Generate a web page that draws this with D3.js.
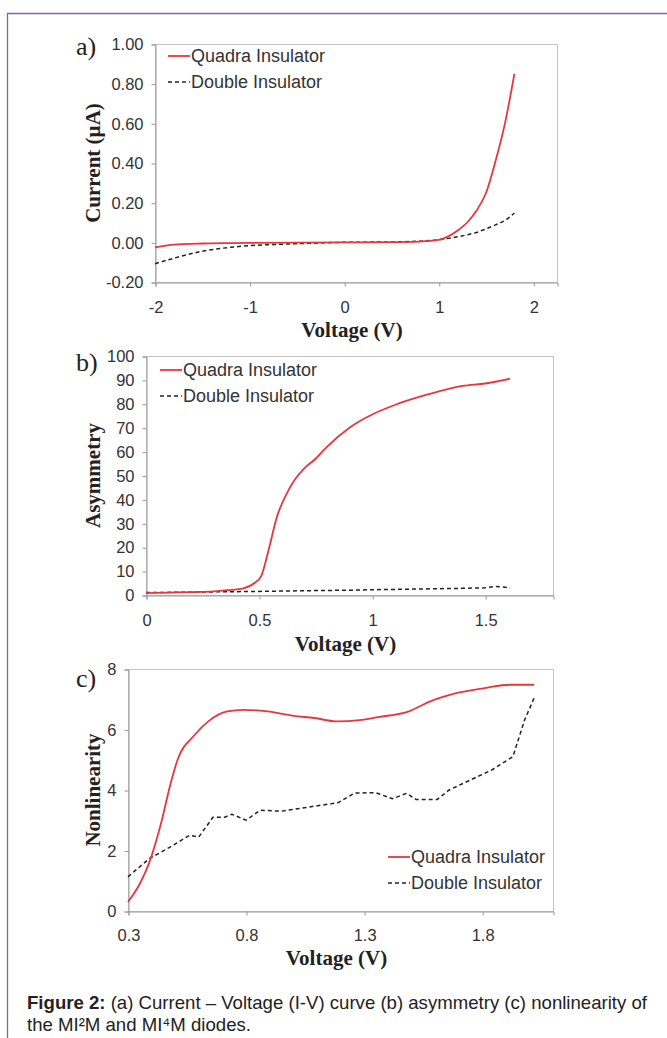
<!DOCTYPE html>
<html lang="en">
<head>
  <meta charset="UTF-8" />
  <title>Figure 2</title>
  <style>
    html, body { margin: 0; padding: 0; background: #fff; }
    svg { display: block; }
  </style>
</head>
<body>
  <script src="https://d3js.org/d3.v7.min.js"></script>
  <script>
    // (a) I-V curve
    const ivVoltage = [-2, -1.8, -1.5, -1.2, -1, -0.5, 0, 0.5, 0.8, 1.0, 1.1, 1.2, 1.3, 1.4, 1.5, 1.6, 1.7, 1.8];
    const ivQuadra = [-0.025, -0.012, -0.006, -0.004, -0.003, -0.001, 0, 0.001, 0.004, 0.012, 0.03, 0.06, 0.1, 0.16, 0.25, 0.41, 0.6, 0.85];
    const ivDouble = [-0.108, -0.08, -0.045, -0.025, -0.017, -0.007, 0, 0.002, 0.006, 0.013, 0.02, 0.028, 0.038, 0.05, 0.068, 0.088, 0.11, 0.148];

    // (b) asymmetry
    const asymVoltage = [0, 0.1, 0.2, 0.3, 0.36, 0.43, 0.48, 0.51, 0.54, 0.58, 0.62, 0.66, 0.7, 0.75, 0.8, 0.9, 1.0, 1.1, 1.25, 1.4, 1.5, 1.61];
    const asymQuadra = [0.8, 1, 1.2, 1.5, 2, 2.8, 5, 8, 18, 33, 42, 48.5, 53, 57, 62, 70, 75.5, 79.5, 84, 87.5, 88.5, 90.5];
    const asymDoubleV = [0, 0.2, 0.4, 0.5, 0.7, 0.9, 1.0, 1.2, 1.4, 1.5, 1.55, 1.61];
    const asymDouble = [1, 1.2, 1.4, 1.5, 1.8, 2, 2.2, 2.5, 2.8, 3, 3.6, 3];

    // (c) nonlinearity
    const nlQuadraV = [0.3, 0.35, 0.39, 0.44, 0.48, 0.51, 0.58, 0.64, 0.72, 0.79, 0.89, 1.0, 1.09, 1.18, 1.29, 1.36, 1.49, 1.58, 1.69, 1.81, 1.92, 2.02];
    const nlQuadra = [0.3, 0.9, 1.6, 2.9, 4.2, 5.0, 5.8, 6.27, 6.6, 6.65, 6.6, 6.45, 6.38, 6.27, 6.32, 6.41, 6.6, 6.93, 7.2, 7.37, 7.48, 7.48];
    const nlDoubleV = [0.3, 0.39, 0.48, 0.56, 0.6, 0.66, 0.71, 0.74, 0.8, 0.86, 0.95, 1.06, 1.19, 1.26, 1.35, 1.42, 1.48, 1.52, 1.61, 1.66, 1.75, 1.84, 1.93, 1.98, 2.02];
    const nlDouble = [1.13, 1.73, 2.12, 2.5, 2.45, 3.1, 3.1, 3.2, 3.0, 3.33, 3.3, 3.43, 3.58, 3.9, 3.91, 3.71, 3.89, 3.69, 3.69, 4.0, 4.33, 4.66, 5.1, 6.32, 7.04];

    const seriesNames = ["Quadra Insulator", "Double Insulator"];

    const W = 667, H = 1038;
    const red = "#e8363f", dark = "#222";
    const sans = "'Liberation Sans', Arial, sans-serif";
    const hyphen = f => d => f(d).replace("\u2212", "-");

    const svg = d3.select("body").append("svg")
      .attr("width", W).attr("height", H)
      .attr("viewBox", [0, 0, W, H]);

    // purple frame
    svg.append("path")
      .attr("d", `M${W},13.5 H7.5 V${H}`)
      .attr("fill", "none").attr("stroke", "#7f62a8").attr("stroke-width", 1.3);

    const panels = [
      {
        tag: "a)", ytitle: "Current (\u00b5A)",
        box: { l: 155, r: 557, t: 44, b: 282 },
        xd: [-2, 2.25], xt: [-2, -1, 0, 1, 2], xf: hyphen(d3.format("d")),
        yd: [-0.2, 1.0], yt: d3.range(-0.2, 1.01, 0.2), yf: hyphen(d3.format(".2f")),
        q: [ivVoltage, ivQuadra], d: [ivVoltage, ivDouble], dCurve: d3.curveMonotoneX,
        leg: { x: 168, y: 56 }, xlabY: 307, xtitleY: 330, tagY: 46
      },
      {
        tag: "b)", ytitle: "Asymmetry",
        box: { l: 146, r: 553, t: 356, b: 595 },
        xd: [0, 1.8], xt: [0, 0.5, 1, 1.5], xf: d => String(d),
        yd: [0, 100], yt: d3.range(0, 101, 10), yf: d3.format("d"),
        q: [asymVoltage, asymQuadra], d: [asymDoubleV, asymDouble], dCurve: d3.curveLinear,
        leg: { x: 160, y: 370 }, xlabY: 620, xtitleY: 644, tagY: 362
      },
      {
        tag: "c)", ytitle: "Nonlinearity",
        box: { l: 128, r: 553, t: 669, b: 911 },
        xd: [0.3, 2.1], xt: [0.3, 0.8, 1.3, 1.8], xf: d3.format(".1f"),
        yd: [0, 8], yt: [0, 2, 4, 6, 8], yf: d3.format("d"),
        q: [nlQuadraV, nlQuadra], d: [nlDoubleV, nlDouble], dCurve: d3.curveLinear,
        leg: { x: 388, y: 857 }, xlabY: 935, xtitleY: 958, tagY: 678
      }
    ];

    panels.forEach(p => {
      const g = svg.append("g");
      const x = d3.scaleLinear().domain(p.xd).range([p.box.l, p.box.r]);
      const y = d3.scaleLinear().domain(p.yd).range([p.box.b, p.box.t]);

      g.append("rect")
        .attr("x", p.box.l + 0.5).attr("y", p.box.t + 0.5)
        .attr("width", p.box.r - p.box.l).attr("height", p.box.b - p.box.t)
        .attr("fill", "none").attr("stroke", "#c4c4c4");

      const yAxis = g.append("g")
        .attr("transform", `translate(${p.box.l + 0.5},0.5)`)
        .call(d3.axisLeft(y).tickValues(p.yt).tickFormat(p.yf).tickSize(4).tickPadding(8));
      const xAxis = g.append("g")
        .attr("transform", `translate(0.5,${p.box.b + 0.5})`)
        .call(d3.axisBottom(x).tickValues(p.xt).tickFormat(p.xf).tickSize(4).tickPadding(0));
      [yAxis, xAxis].forEach(a => {
        a.select(".domain").attr("stroke", "#9a9a9a");
        a.selectAll(".tick line").attr("stroke", "#9a9a9a");
        a.selectAll(".tick text")
          .attr("fill", "#333")
          .style("font", `16.5px ${sans}`);
      });
      xAxis.selectAll(".tick text").attr("y", p.xlabY - p.box.b).attr("dy", "0.35em");

      const mk = (xs, ys) => xs.map((v, i) => [x(v), y(ys[i])]);
      g.append("path")
        .attr("d", d3.line().curve(p.dCurve)(mk(p.d[0], p.d[1])))
        .attr("fill", "none").attr("stroke", dark).attr("stroke-width", 1.5)
        .attr("stroke-dasharray", "4,3");
      g.append("path")
        .attr("d", d3.line().curve(d3.curveMonotoneX)(mk(p.q[0], p.q[1])))
        .attr("fill", "none").attr("stroke", red).attr("stroke-width", 1.8);

      // legend
      const lg = g.append("g").attr("transform", `translate(${p.leg.x},${p.leg.y})`);
      seriesNames.forEach((name, i) => {
        lg.append("line")
          .attr("x1", 0).attr("x2", 22).attr("y1", i * 26).attr("y2", i * 26)
          .attr("stroke", i === 0 ? red : dark).attr("stroke-width", i === 0 ? 1.8 : 1.5)
          .attr("stroke-dasharray", i === 0 ? null : "4,3");
        lg.append("text")
          .attr("x", 23).attr("y", i * 26).attr("dy", "0.35em")
          .attr("fill", "#333")
          .style("font", `18px ${sans}`)
          .text(name);
      });

      // axis titles
      const serif = "bold 21px 'Liberation Serif', 'Times New Roman', serif";
      g.append("text")
        .attr("transform", `translate(93,${(p.box.t + p.box.b) / 2}) rotate(-90)`)
        .attr("text-anchor", "middle").attr("dy", "0.35em")
        .attr("fill", "#222").style("font", serif)
        .text(p.ytitle);
      g.append("text")
        .attr("x", (p.box.l + p.box.r) / 2 - 4).attr("y", p.xtitleY).attr("dy", "0.35em")
        .attr("text-anchor", "middle")
        .attr("fill", "#222").style("font", serif)
        .text("Voltage (V)");
      g.append("text")
        .attr("x", 76).attr("y", p.tagY).attr("dy", "0.35em")
        .attr("fill", "#222").style("font", "26px 'Liberation Serif', 'Times New Roman', serif")
        .text(p.tag);
    });

    // caption
    const cap = svg.append("text")
      .attr("x", 27).attr("y", 1009)
      .attr("fill", "#222")
      .style("font", `18.6px ${sans}`);
    cap.append("tspan").attr("font-weight", "bold").text("Figure 2:");
    cap.append("tspan").text(" (a) Current \u2013 Voltage (I-V) curve (b) asymmetry (c) nonlinearity of");
    svg.append("text")
      .attr("x", 27).attr("y", 1031)
      .attr("fill", "#222")
      .style("font", `18.6px ${sans}`)
      .text("the MI\u00b2M and MI\u2074M diodes.");
  </script>
</body>
</html>
